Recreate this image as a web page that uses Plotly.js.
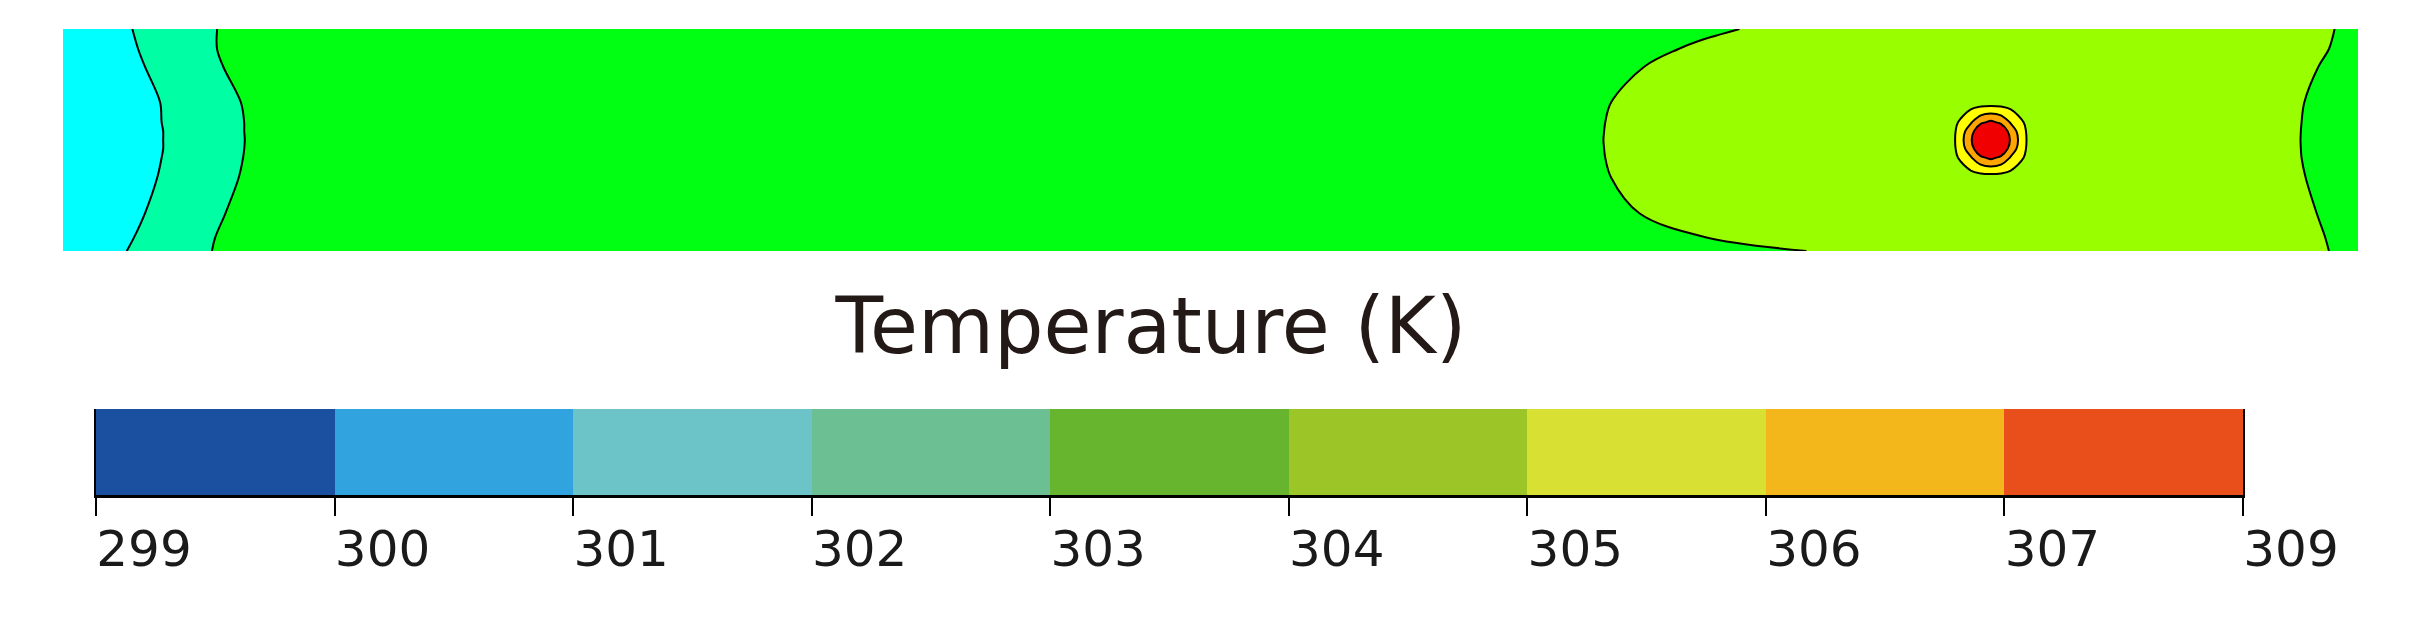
<!DOCTYPE html>
<html>
<head>
<meta charset="utf-8">
<script src="https://cdn.plot.ly/plotly-3.0.1.min.js"></script>
<style>
  body { margin: 0; background: #fff; }
  #chart { width: 2422px; height: 633px; }
</style>
</head>
<body>
<div id="chart"></div>
<script>
// Temperature field along the channel (x in mm, y in % of height), values in K
const xPos = [0, 55, 82, 365, 652, 713, 783, 822.6, 831.3, 835.6, 840, 844.4, 848.7, 857.4, 909, 962, 1000];
const yPos = [0, 6, 17, 33, 42, 46, 50, 54, 58, 67, 83, 91, 100];
const temps = [
    [300.5, 301.49, 302.88, 302.5, 302.6, 302.80, 303.1, 303.5, 303.5, 303.5, 303.5, 303.5, 303.5, 303.5, 303.5, 303.3, 302.85],
    [300.5, 301.39, 302.85, 302.5, 302.6, 302.98, 303.3, 303.5, 303.5, 303.5, 303.5, 303.5, 303.5, 303.5, 303.5, 303.3, 302.82],
    [300.5, 301.27, 302.52, 302.5, 302.6, 303.30, 303.5, 303.5, 303.5, 303.5, 303.5, 303.5, 303.5, 303.5, 303.5, 303.3, 302.73],
    [300.5, 301.17, 302.21, 302.5, 302.6, 303.68, 303.5, 303.5, 303.5, 303.5, 303.5, 303.5, 303.5, 303.5, 303.5, 303.3, 302.55],
    [300.5, 301.14, 302.13, 302.5, 302.6, 303.82, 303.5, 303.5, 304.90, 305.80, 306.19, 305.80, 304.90, 303.5, 303.5, 303.3, 302.45],
    [300.5, 301.13, 302.11, 302.5, 302.6, 303.85, 303.5, 303.5, 305.59, 306.88, 307.59, 306.88, 305.59, 303.5, 303.5, 303.3, 302.43],
    [300.5, 301.13, 302.10, 302.5, 302.6, 303.87, 303.5, 303.5, 305.86, 307.42, 309.00, 307.42, 305.86, 303.5, 303.5, 303.3, 302.42],
    [300.5, 301.13, 302.11, 302.5, 302.6, 303.85, 303.5, 303.5, 305.59, 306.88, 307.59, 306.88, 305.59, 303.5, 303.5, 303.3, 302.43],
    [300.5, 301.14, 302.11, 302.5, 302.6, 303.82, 303.5, 303.5, 304.90, 305.80, 306.19, 305.80, 304.90, 303.5, 303.5, 303.3, 302.45],
    [300.5, 301.15, 302.17, 302.5, 302.6, 303.68, 303.5, 303.5, 303.5, 303.5, 303.5, 303.5, 303.5, 303.5, 303.5, 303.3, 302.52],
    [300.5, 301.27, 302.60, 302.5, 302.6, 303.26, 303.5, 303.5, 303.5, 303.5, 303.5, 303.5, 303.5, 303.5, 303.5, 303.3, 302.75],
    [300.5, 301.34, 302.81, 302.5, 302.6, 303.07, 303.5, 303.5, 303.5, 303.5, 303.5, 303.5, 303.5, 303.5, 303.5, 303.3, 302.85],
    [300.5, 301.41, 302.72, 302.5, 302.6, 302.90, 303.3, 303.5, 303.5, 303.5, 303.5, 303.5, 303.5, 303.5, 303.5, 303.3, 302.89]
];
// band colours of the field, lowest band first
const fieldColors = ['#00ffff', '#00ffa5', '#00ff12', '#99ff00', '#ffff00', '#ffa500', '#f00000'];

// legend bar underneath
const legendColors = ['#1b4f9f', '#31a4df', '#6cc4c9', '#6bbf92', '#67b42f', '#9cc628', '#d8e034', '#f3b71b', '#e84f1b'];
const legendLabels = ['299', '300', '301', '302', '303', '304', '305', '306', '307', '309'];

const W = 2422, H = 633;
const font = 'DejaVu Sans, Arial, sans-serif';

const field = {
    type: 'contour',
    x: xPos,
    y: yPos,
    z: temps,
    xaxis: 'x',
    yaxis: 'y',
    autocontour: false,
    contours: { start: 301, end: 306, size: 1, coloring: 'fill', showlines: true },
    line: { color: '#000', width: 2, smoothing: 1 },
    colorscale: fieldColors.map((c, i) => [i / (fieldColors.length - 1), c]),
    zmin: 300.5,
    zmax: 306.5,
    showscale: false,
    hoverinfo: 'skip'
};

const legendBar = {
    type: 'heatmap',
    x: legendColors.map((c, i) => i + 0.5),
    y: [0],
    z: [legendColors.map((c, i) => i)],
    xaxis: 'x2',
    yaxis: 'y2',
    colorscale: legendColors.map((c, i) => [i / (legendColors.length - 1), c]),
    zmin: 0,
    zmax: legendColors.length - 1,
    showscale: false,
    hoverinfo: 'skip'
};

const layout = {
    width: W,
    height: H,
    margin: { l: 0, r: 0, t: 0, b: 0 },
    paper_bgcolor: '#fff',
    plot_bgcolor: '#fff',
    showlegend: false,
    title: {
        text: 'Temperature (K)',
        font: { family: font, size: 78, color: '#231916' },
        xref: 'container', x: 1151 / W, xanchor: 'center',
        yref: 'container', y: 1 - 326 / H, yanchor: 'middle'
    },
    xaxis: { domain: [63 / W, 2358 / W], range: [0, 1000], visible: false },
    yaxis: { domain: [1 - 251 / H, 1 - 29 / H], range: [0, 100], visible: false },
    xaxis2: {
        domain: [96 / W, 2243 / W],
        anchor: 'y2',
        range: [0, legendColors.length],
        tickmode: 'array',
        tickvals: legendLabels.map((l, i) => i),
        ticktext: legendLabels,
        ticks: 'outside',
        ticklen: 18,
        tickwidth: 2,
        tickcolor: '#000',
        ticklabelshift: 48,
        ticklabelstandoff: -10,
        tickfont: { family: font, size: 50, color: '#1a1a1a' },
        showline: true,
        linecolor: '#000',
        linewidth: 3,
        showgrid: false,
        zeroline: false
    },
    yaxis2: {
        domain: [1 - 495 / H, 1 - 409 / H],
        anchor: 'x2',
        range: [-0.5, 0.5],
        showticklabels: false,
        ticks: '',
        showline: true,
        mirror: true,
        linecolor: '#000',
        linewidth: 2,
        showgrid: false,
        zeroline: false
    }
};

Plotly.newPlot('chart', [field, legendBar], layout, { displayModeBar: false, staticPlot: true });
</script>
</body>
</html>
